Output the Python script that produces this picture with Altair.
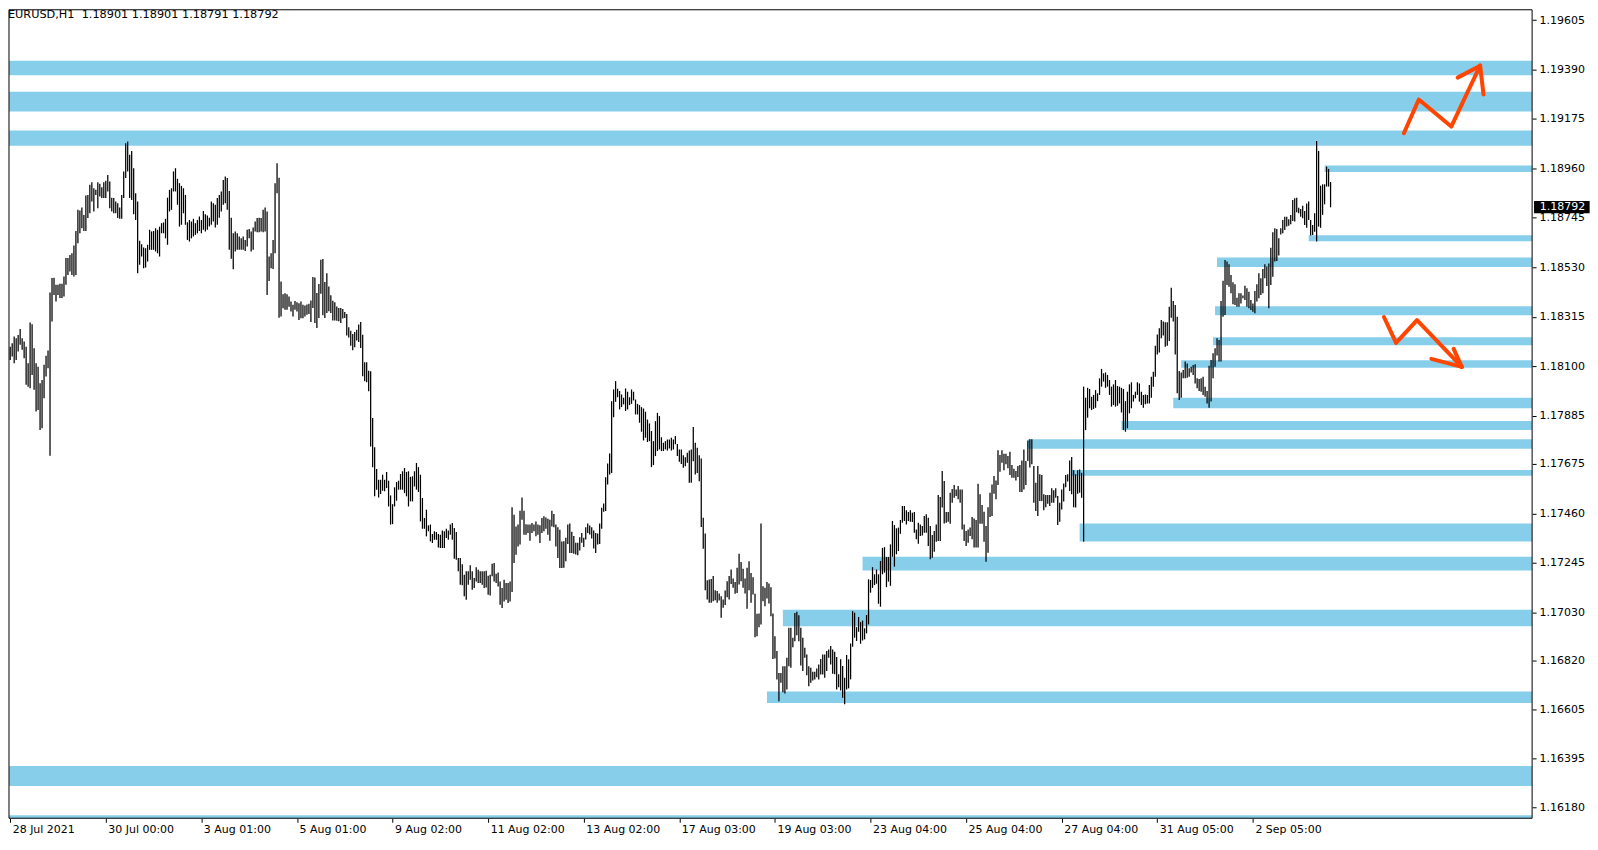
import altair as alt
import pandas as pd

symbol_title = "EURUSD,H1\u00a0\u00a01.18901 1.18901 1.18791 1.18792"
last_price = 1.18792

# H1 bar highs / lows, 28 Jul 2021 -> 3 Sep 2021
high = [
 1.18185,1.18200,1.18229,1.18222,1.18236,1.18262,1.18222,1.18207,1.18185,1.18113,
 1.18290,1.18282,1.18178,1.18113,1.18098,1.18026,1.18040,1.18106,1.18145,1.18168,
 1.18420,1.18483,1.18485,1.18454,1.18454,1.18458,1.18458,1.18490,1.18570,1.18570,
 1.18584,1.18591,1.18625,1.18688,1.18780,1.18777,1.18790,1.18758,1.18842,1.18845,
 1.18889,1.18900,1.18874,1.18867,1.18900,1.18893,1.18878,1.18900,1.18906,1.18932,
 1.18903,1.18833,1.18831,1.18816,1.18809,1.18790,1.18845,1.18947,1.19070,1.19077,
 1.19019,1.19036,1.18961,1.18852,1.18816,1.18645,1.18630,1.18616,1.18613,1.18628,
 1.18693,1.18686,1.18688,1.18700,1.18693,1.18707,1.18722,1.18725,1.18741,1.18833,
 1.18867,1.18874,1.18947,1.18961,1.18915,1.18896,1.18884,1.18874,1.18845,1.18726,
 1.18736,1.18729,1.18741,1.18722,1.18736,1.18751,1.18736,1.18775,1.18761,1.18755,
 1.18746,1.18816,1.18809,1.18802,1.18831,1.18845,1.18860,1.18910,1.18925,1.18918,
 1.18862,1.18746,1.18678,1.18686,1.18678,1.18664,1.18656,1.18664,1.18649,1.18693,
 1.18697,1.18686,1.18703,1.18729,1.18744,1.18746,1.18744,1.18780,1.18790,1.18773,
 1.18577,1.18591,1.18649,1.18896,1.18983,1.18920,1.18468,1.18413,1.18417,1.18413,
 1.18403,1.18381,1.18367,1.18384,1.18378,1.18374,1.18381,1.18367,1.18364,
 1.18368,1.18372,1.18386,1.18488,1.18486,1.18418,1.18457,1.18563,1.18566,1.18466,
 1.18504,1.18447,1.18408,1.18385,1.18378,1.18360,1.18353,1.18353,1.18349,1.18336,
 1.18327,1.18269,1.18254,1.18240,1.18249,1.18259,1.18281,1.18292,1.18237,1.18117,
 1.18117,1.18080,1.18078,1.17875,1.17747,1.17653,1.17606,1.17606,1.17628,1.17606,
 1.17640,1.17602,1.17538,1.17500,1.17573,1.17596,1.17602,1.17631,1.17643,1.17657,
 1.17640,1.17643,1.17619,1.17621,1.17643,1.17679,1.17661,1.17628,1.17527,1.17440,
 1.17476,1.17408,1.17411,1.17370,1.17382,1.17379,1.17370,1.17367,1.17385,1.17382,
 1.17393,1.17385,1.17411,1.17418,1.17396,1.17379,1.17266,1.17266,1.17239,1.17193,
 1.17208,1.17208,1.17234,1.17208,1.17179,1.17226,1.17215,1.17208,1.17208,1.17208,
 1.17210,1.17189,1.17193,1.17241,1.17244,1.17197,1.17203,1.17164,1.17135,1.17171,
 1.17157,1.17157,1.17164,1.17487,1.17454,1.17403,1.17411,1.17471,1.17529,1.17471,
 1.17413,1.17411,1.17411,1.17418,1.17411,1.17425,1.17411,1.17408,1.17440,1.17447,
 1.17442,1.17437,1.17432,1.17471,1.17457,1.17411,1.17399,1.17389,1.17338,
 1.17339,1.17354,1.17412,1.17416,1.17380,1.17361,1.17332,1.17332,1.17356,1.17375,
 1.17354,1.17400,1.17416,1.17407,1.17400,1.17385,1.17375,1.17372,1.17416,1.17484,
 1.17503,1.17617,1.17677,1.17720,1.17948,1.17999,1.18035,1.18002,1.17992,1.17977,
 1.17963,1.18003,1.17989,1.17965,1.17999,1.17989,1.17955,1.17936,1.17931,1.17922,
 1.17916,1.17902,1.17868,1.17851,1.17818,1.17774,1.17861,1.17897,1.17883,1.17791,
 1.17767,1.17774,1.17781,1.17781,1.17789,1.17781,1.17796,1.17762,1.17738,1.17738,
 1.17713,1.17704,1.17723,1.17733,1.17738,1.17835,1.17767,1.17745,1.17713,1.17699,
 1.17441,1.17372,1.17169,1.17172,1.17175,1.17187,1.17126,1.17122,1.17111,1.17100,
 1.17085,1.17124,1.17165,1.17187,1.17216,1.17177,1.17161,1.17223,1.17284,1.17248,
 1.17219,1.17177,1.17223,1.17252,1.17201,1.17182,1.17110,1.17023,1.17024,1.17416,
 1.17143,1.17136,1.17161,1.17155,1.17139,1.17024,1.16926,1.16861,1.16766,1.16766,
 1.16795,1.16795,1.16832,1.16962,1.16962,1.16919,1.17027,1.17032,1.17017,1.16962,
 1.16919,1.16875,1.16846,1.16795,1.16788,1.16771,1.16771,1.16785,1.16803,1.16827,
 1.16846,1.16846,1.16861,
 1.16868,1.16883,1.16868,1.16858,1.16835,1.16760,1.16825,1.16796,1.16745,1.16844,
 1.16825,1.16894,1.17035,1.17028,1.16965,1.17009,1.16987,1.16994,1.16960,1.17018,
 1.17173,1.17170,1.17226,1.17195,1.17216,1.17195,1.17253,1.17310,1.17313,1.17270,
 1.17270,1.17325,1.17427,1.17409,1.17395,1.17398,1.17431,1.17492,1.17492,1.17473,
 1.17466,1.17473,1.17463,1.17466,1.17390,1.17419,1.17412,1.17405,1.17448,1.17456,
 1.17441,1.17405,1.17366,1.17383,1.17412,1.17540,1.17531,1.17644,1.17601,1.17466,
 1.17466,1.17550,1.17566,1.17583,1.17564,1.17579,1.17564,1.17564,1.17412,1.17383,
 1.17390,1.17398,1.17444,1.17438,1.17431,1.17589,1.17543,1.17496,1.17467,1.17405,
 1.17487,1.17550,1.17586,1.17622,1.17603,1.17734,1.17714,1.17734,1.17719,1.17719,
 1.17709,1.17728,1.17670,1.17654,1.17644,1.17666,1.17670,1.17690,1.17738,1.17688,
 1.17777,1.17782,1.17782,1.17666,1.17593,1.17666,1.17630,1.17627,1.17543,1.17540,
 1.17540,1.17540,1.17569,1.17560,1.17569,1.17535,1.17506,1.17564,1.17590,1.17627,
 1.17630,1.17690,1.17705,1.17647,1.17630,1.17647,1.17651,1.17637,
 1.18011,1.17963,1.18006,1.18001,1.17967,1.17975,1.17996,1.17982,1.18047,1.18088,
 1.18069,1.18073,1.18062,1.18040,1.18011,1.18021,1.18040,1.18014,1.18011,1.18006,
 1.18001,1.17948,1.17989,1.18021,1.18030,1.17975,1.17989,1.18030,1.18025,1.17989,
 1.17975,1.17977,1.17975,1.18018,1.18054,1.18076,1.18189,1.18238,1.18265,1.18301,
 1.18294,1.18291,1.18291,1.18359,1.18441,1.18383,1.18366,1.18315,1.18079,1.18073,
 1.18083,1.18120,1.18112,1.18091,1.18098,1.18105,1.18108,1.18047,1.18044,1.18047,
 1.18054,1.18011,1.17992,1.18102,1.18127,1.18156,1.18178,1.18221,1.18214,1.18383,
 1.18472,1.18562,1.18555,1.18543,1.18497,1.18465,1.18456,1.18398,1.18417,1.18417,
 1.18407,1.18450,1.18439,1.18424,1.18388,1.18373,1.18427,1.18456,1.18504,1.18482,
 1.18523,1.18543,1.18533,1.18547,1.18615,1.18682,1.18700,1.18697,1.18656,1.18700,
 1.18736,1.18750,1.18750,1.18739,1.18758,1.18823,1.18830,1.18833,1.18789,1.18784,
 1.18798,1.18775,1.18808,1.18816,1.18736,1.18714,1.18765,1.19079,1.19036,1.18885,
 1.18891,1.18891,1.18968,1.18958,1.18901,
]

low = [
 1.18127,1.18142,1.18113,1.18127,1.18164,1.18193,1.18171,1.18135,1.18019,1.18011,
 1.18004,1.18062,1.17997,1.17903,1.17910,1.17823,1.17830,1.17961,1.18055,1.18091,
 1.17710,1.18294,1.18410,1.18381,1.18410,1.18396,1.18396,1.18403,1.18454,1.18497,
 1.18512,1.18497,1.18490,1.18497,1.18635,1.18678,1.18700,1.18688,1.18688,1.18744,
 1.18765,1.18816,1.18773,1.18845,1.18787,1.18838,1.18831,1.18831,1.18831,1.18860,
 1.18787,1.18773,1.18765,1.18765,1.18744,1.18741,1.18741,1.18831,1.18918,1.18947,
 1.18831,1.18823,1.18761,1.18736,1.18504,1.18541,1.18577,1.18526,1.18529,1.18555,
 1.18606,1.18606,1.18606,1.18599,1.18591,1.18577,1.18678,1.18678,1.18656,1.18628,
 1.18773,1.18780,1.18860,1.18860,1.18802,1.18707,1.18715,1.18765,1.18715,1.18649,
 1.18642,1.18656,1.18664,1.18671,1.18678,1.18688,1.18678,1.18693,1.18686,1.18693,
 1.18707,1.18715,1.18729,1.18703,1.18715,1.18746,1.18773,1.18802,1.18809,1.18780,
 1.18606,1.18567,1.18522,1.18599,1.18606,1.18606,1.18606,1.18606,1.18601,1.18620,
 1.18656,1.18599,1.18606,1.18686,1.18683,1.18683,1.18686,1.18683,1.18686,1.18410,
 1.18471,1.18526,1.18523,1.18591,1.18852,1.18311,1.18316,1.18352,1.18345,1.18345,
 1.18359,1.18338,1.18316,1.18345,1.18338,1.18301,1.18309,1.18309,1.18316,
 1.18324,1.18327,1.18292,1.18353,1.18288,1.18266,1.18310,1.18415,1.18321,1.18310,
 1.18331,1.18339,1.18331,1.18299,1.18299,1.18298,1.18295,1.18288,1.18307,1.18310,
 1.18233,1.18225,1.18189,1.18169,1.18182,1.18212,1.18205,1.18179,1.18056,1.18034,
 1.18030,1.17991,1.17751,1.17660,1.17534,1.17563,1.17529,1.17544,1.17558,1.17556,
 1.17570,1.17490,1.17411,1.17413,1.17490,1.17515,1.17563,1.17563,1.17563,1.17548,
 1.17534,1.17490,1.17512,1.17512,1.17577,1.17563,1.17553,1.17425,1.17393,1.17393,
 1.17360,1.17382,1.17338,1.17331,1.17345,1.17345,1.17312,1.17309,1.17309,1.17309,
 1.17353,1.17345,1.17367,1.17345,1.17263,1.17258,1.17208,1.17150,1.17147,1.17099,
 1.17084,1.17150,1.17171,1.17128,1.17135,1.17164,1.17157,1.17157,1.17150,1.17135,
 1.17138,1.17106,1.17103,1.17186,1.17164,1.17157,1.17142,1.17063,1.17048,1.17077,
 1.17084,1.17070,1.17077,1.17118,1.17244,1.17280,1.17316,1.17324,1.17432,1.17367,
 1.17367,1.17374,1.17341,1.17374,1.17382,1.17360,1.17367,1.17331,1.17374,1.17382,
 1.17393,1.17367,1.17341,1.17403,1.17399,1.17316,1.17266,1.17222,1.17222,
 1.17223,1.17252,1.17327,1.17288,1.17288,1.17284,1.17281,1.17278,1.17298,1.17332,
 1.17314,1.17346,1.17375,1.17368,1.17351,1.17307,1.17288,1.17325,1.17327,1.17393,
 1.17467,1.17470,1.17586,1.17629,1.17636,1.17878,1.17945,1.17965,1.17912,1.17922,
 1.17934,1.17905,1.17912,1.17931,1.17936,1.17951,1.17890,1.17890,1.17854,1.17815,
 1.17777,1.17789,1.17770,1.17774,1.17661,1.17670,1.17709,1.17731,1.17738,1.17731,
 1.17731,1.17738,1.17733,1.17742,1.17733,1.17738,1.17760,1.17709,1.17684,1.17675,
 1.17658,1.17665,1.17680,1.17593,1.17593,1.17687,1.17629,1.17636,1.17600,1.17401,
 1.17306,1.17126,1.17085,1.17071,1.17071,1.17078,1.17082,1.17071,1.17081,1.17006,
 1.17049,1.17061,1.17095,1.17085,1.17153,1.17136,1.17110,1.17114,1.17151,1.17165,
 1.17136,1.17111,1.17045,1.17126,1.17071,1.17107,1.16921,1.16926,1.16965,1.16977,
 1.17078,1.17056,1.17090,1.17068,1.17013,1.16827,1.16829,1.16737,1.16643,1.16723,
 1.16682,1.16676,1.16694,1.16795,1.16788,1.16878,1.16904,1.16930,1.16904,1.16798,
 1.16774,1.16832,1.16756,1.16708,1.16723,1.16733,1.16737,1.16747,1.16737,1.16759,
 1.16759,1.16745,1.16774,
 1.16832,1.16803,1.16762,1.16760,1.16694,1.16704,1.16690,1.16658,1.16630,1.16694,
 1.16699,1.16738,1.16880,1.16919,1.16905,1.16945,1.16893,1.16907,1.16912,1.16938,
 1.16977,1.17115,1.17136,1.17148,1.17154,1.17067,1.17054,1.17195,1.17202,1.17139,
 1.17163,1.17145,1.17271,1.17228,1.17282,1.17296,1.17371,1.17419,1.17427,1.17412,
 1.17427,1.17424,1.17422,1.17376,1.17347,1.17328,1.17361,1.17364,1.17376,1.17376,
 1.17318,1.17260,1.17267,1.17293,1.17337,1.17340,1.17340,1.17485,1.17416,1.17419,
 1.17424,1.17415,1.17506,1.17528,1.17535,1.17521,1.17506,1.17390,1.17340,1.17318,
 1.17332,1.17361,1.17347,1.17311,1.17311,1.17311,1.17415,1.17415,1.17337,1.17250,
 1.17289,1.17444,1.17448,1.17545,1.17521,1.17583,1.17641,1.17680,1.17647,1.17673,
 1.17656,1.17627,1.17615,1.17615,1.17603,1.17618,1.17553,1.17553,1.17564,1.17583,
 1.17688,1.17659,1.17673,1.17506,1.17470,1.17448,1.17514,1.17514,1.17474,1.17487,
 1.17502,1.17492,1.17506,1.17506,1.17528,1.17409,1.17424,1.17477,1.17511,1.17574,
 1.17598,1.17557,1.17543,1.17487,1.17485,1.17545,1.17550,1.17528,
 1.17337,1.17822,1.17876,1.17917,1.17909,1.17914,1.17919,1.17948,1.17975,1.18011,
 1.18033,1.18006,1.18011,1.17975,1.17924,1.17931,1.17924,1.17928,1.17938,1.17899,
 1.17822,1.17815,1.17830,1.17895,1.17917,1.17946,1.17960,1.17975,1.17946,1.17931,
 1.17919,1.17934,1.17938,1.17938,1.17963,1.18011,1.18054,1.18151,1.18160,1.18221,
 1.18233,1.18185,1.18189,1.18209,1.18311,1.18294,1.18151,1.17982,1.17953,1.17963,
 1.18047,1.18047,1.18050,1.18054,1.18073,1.18062,1.18025,1.18004,1.17992,1.17989,
 1.17975,1.17967,1.17938,1.17919,1.17946,1.18047,1.18098,1.18146,1.18120,1.18120,
 1.18315,1.18323,1.18453,1.18446,1.18417,1.18369,1.18366,1.18359,1.18359,1.18373,
 1.18395,1.18388,1.18359,1.18352,1.18344,1.18337,1.18330,1.18381,1.18395,1.18410,
 1.18417,1.18482,1.18449,1.18352,1.18453,1.18489,1.18555,1.18557,1.18581,1.18673,
 1.18678,1.18692,1.18707,1.18711,1.18717,1.18731,1.18729,1.18769,1.18765,1.18750,
 1.18743,1.18714,1.18702,1.18736,1.18668,1.18671,1.18685,1.18642,1.18707,1.18702,
 1.18758,1.18804,1.18881,1.18881,1.18791,
]

# Support / resistance zones (price top, price bottom, first bar index; None = whole chart)
zone_top = [1.19428, 1.19294, 1.19125, 1.18973, 1.18669, 1.18573, 1.18361, 1.18226, 1.18126,
            1.17963, 1.17862, 1.17782, 1.17649, 1.17416, 1.17271, 1.17041, 1.16685, 1.16361, 1.16147]
zone_bottom = [1.19365, 1.19208, 1.19059, 1.18944, 1.18643, 1.18531, 1.18322, 1.18191, 1.18093,
               1.17917, 1.17823, 1.17741, 1.17623, 1.17338, 1.17211, 1.16969, 1.16635, 1.16274, 1.16080]
zone_start = [None, None, None, 660, 652, 606, 605, 604, 588,
              584, 558, 511, 533, 537, 428, 388, 380, None, None]

# Hand-drawn arrows (bar index, price)
arrow_seg = ["up", "up", "up", "up", "up_b1", "up_b1", "up_b2", "up_b2",
             "dn", "dn", "dn", "dn", "dn_b1", "dn_b1", "dn_b2", "dn_b2"]
arrow_x = [699.8, 707.3, 723.6, 738.1, 726.8, 738.1, 738.1, 739.8,
           689.8, 695.9, 706.4, 728.9, 713.6, 728.9, 724.8, 728.9]
arrow_y = [1.19113, 1.19260, 1.19142, 1.19407, 1.19355, 1.19407, 1.19407, 1.19282,
           1.18314, 1.18201, 1.18300, 1.18097, 1.18132, 1.18097, 1.18175, 1.18097]

x_tick_index = [0, 48, 96, 144, 192, 240, 288, 336, 384, 432, 480, 528, 576, 624]
x_tick_labels = ["28 Jul 2021", "30 Jul 00:00", "3 Aug 01:00", "5 Aug 01:00", "9 Aug 02:00",
                 "11 Aug 02:00", "13 Aug 02:00", "17 Aug 03:00", "19 Aug 03:00",
                 "23 Aug 04:00", "25 Aug 04:00", "27 Aug 04:00", "31 Aug 05:00", "2 Sep 05:00"]
y_ticks = [1.19605, 1.19390, 1.19175, 1.18960, 1.18745, 1.18530, 1.18315, 1.18100, 1.17885,
           1.17675, 1.17460, 1.17245, 1.17030, 1.16820, 1.16605, 1.16395, 1.16180]

assert len(high) == len(low)

# ---------------- layout ----------------
W, H = 1526, 810
X_DOM = [-0.6, 764.2]
Y_DOM = [1.16134, 1.19650]
FONT = "DejaVu Sans"
ZONE = "#87CEEB"
ARROW = "#FF4500"

xs = alt.Scale(domain=X_DOM, nice=False, zero=False)
ys = alt.Scale(domain=Y_DOM, nice=False, zero=False)

lab_arr = "[" + ",".join("'%s'" % s for s in x_tick_labels) + "]"
val_arr = "[" + ",".join(str(v) for v in x_tick_index) + "]"
x_axis = alt.Axis(values=x_tick_index, labelExpr=f"{lab_arr}[indexof({val_arr}, datum.value)]",
                  orient="bottom", domain=False, grid=False, title=None, tickSize=4,
                  tickColor="black", labelColor="black", labelFont=FONT, labelFontSize=11,
                  labelAlign="left", labelBaseline="top", labelPadding=1, labelOffset=2,
                  labelOverlap=False, labelFlush=False, labelBound=False)
y_axis = alt.Axis(values=y_ticks, format=".5f", orient="right", domain=False, grid=False,
                  title=None, tickSize=4, tickColor="black", labelColor="black",
                  labelFont=FONT, labelFontSize=11, labelAlign="left", labelPadding=3,
                  labelOverlap=False, labelFlush=False, labelBound=False)

bars_df = pd.DataFrame({"i": list(range(len(high))), "high": high, "low": low})
zones_df = pd.DataFrame({
    "x0": [X_DOM[0] if s is None else s for s in zone_start],
    "x1": [X_DOM[1]] * len(zone_top),
    "top": zone_top, "bottom": zone_bottom})
arrows_df = pd.DataFrame({"seg": arrow_seg, "x": arrow_x, "y": arrow_y,
                          "ord": list(range(len(arrow_x)))})
price_df = pd.DataFrame({"p": [last_price], "label": [f"{last_price:.5f}"]})
title_df = pd.DataFrame({"t": [symbol_title]})
one_df = pd.DataFrame({"k": [0]})

zones = alt.Chart(zones_df).mark_rect(color=ZONE, clip=True).encode(
    x=alt.X("x0:Q", scale=xs, axis=x_axis), x2="x1:Q",
    y=alt.Y("top:Q", scale=ys, axis=y_axis), y2="bottom:Q")

bars = alt.Chart(bars_df).mark_rule(color="black", strokeWidth=1.25).encode(
    x=alt.X("i:Q", scale=xs, axis=x_axis),
    y=alt.Y("high:Q", scale=ys, axis=y_axis), y2="low:Q")

arrows = alt.Chart(arrows_df).mark_line(color=ARROW, strokeWidth=4, strokeCap="round",
                                        strokeJoin="round").encode(
    x=alt.X("x:Q", scale=xs, axis=x_axis),
    y=alt.Y("y:Q", scale=ys, axis=y_axis),
    detail="seg:N", order="ord:Q")

frame = alt.Chart(one_df).mark_rect(fillOpacity=0, stroke="black", strokeWidth=1).encode(
    x=alt.value(0), x2=alt.value(W), y=alt.value(0), y2=alt.value(H))

box = alt.Chart(price_df).mark_point(
    shape="M-2.27,-0.5L2.27,-0.5L2.27,0.5L-2.27,0.5Z", size=602, filled=True,
    color="black", opacity=1, strokeWidth=0).encode(
    x=alt.value(1555.8), y=alt.Y("p:Q", scale=ys, axis=y_axis))

box_text = alt.Chart(price_df).mark_text(align="left", baseline="middle", color="white",
                                         font=FONT, fontSize=11).encode(
    x=alt.value(1533.7), y=alt.Y("p:Q", scale=ys, axis=y_axis), text="label:N")

title = alt.Chart(title_df).mark_text(align="left", baseline="top", color="black",
                                      font=FONT, fontSize=11.3).encode(
    x=alt.value(-1), y=alt.value(-1), text="t:N")

chart = alt.layer(zones, bars, arrows, frame, box, box_text, title).properties(
    width=W, height=H, padding=0, background="white"
).configure_view(stroke=None)

chart.save("out.html", embed_options={"renderer": "svg", "actions": False})
